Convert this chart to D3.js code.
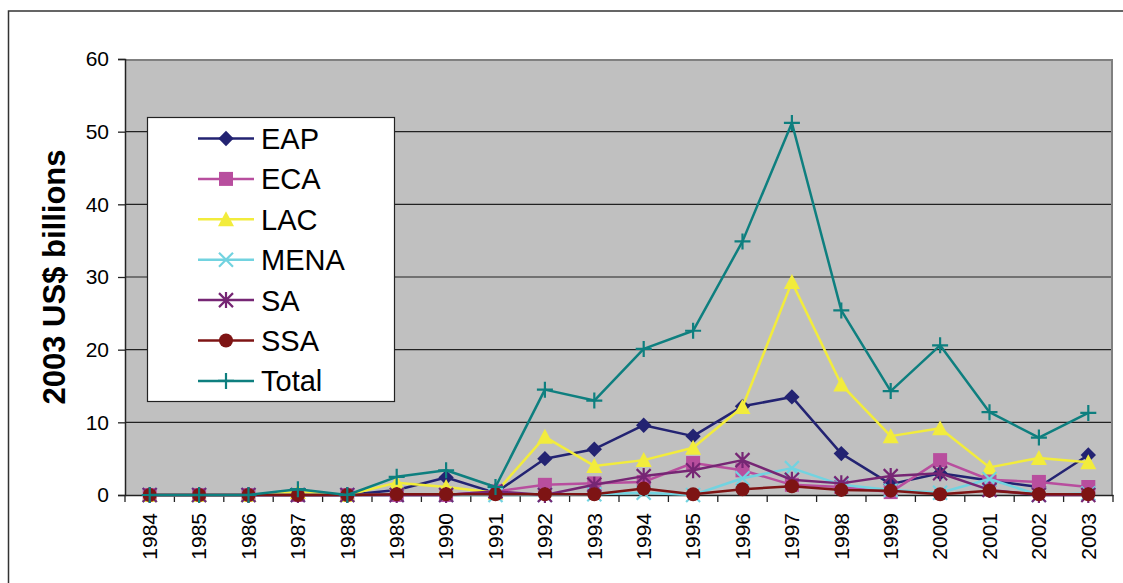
<!DOCTYPE html>
<html>
<head>
<meta charset="utf-8">
<script src="https://cdn.jsdelivr.net/npm/d3@7"></script>
<style>
  body { margin: 0; background: #fff; }
  svg { font-family: "Liberation Sans", Arial, sans-serif; }
</style>
</head>
<body>
<svg id="chart" width="1123" height="583"></svg>
<script>
// chart data
var years = [1984, 1985, 1986, 1987, 1988, 1989, 1990, 1991, 1992, 1993,
             1994, 1995, 1996, 1997, 1998, 1999, 2000, 2001, 2002, 2003];

var eap   = [0, 0, 0, 0, 0, 0.7, 2.4, 0.3, 5.0, 6.3, 9.6, 8.1, 12.2, 13.5, 5.7, 1.5, 3.0, 2.0, 1.1, 5.5];
var eca   = [0, 0, 0, 0, 0, 0, 0, 0.5, 1.4, 1.6, 1.8, 4.4, 3.4, 1.4, 1.1, 0.4, 4.8, 2.1, 1.8, 1.1];
var lac   = [0, 0, 0, 0.4, 0, 1.7, 1.1, 0.3, 8.0, 4.0, 4.8, 6.5, 12.1, 29.3, 15.2, 8.1, 9.2, 3.8, 5.1, 4.5];
var mena  = [0, 0, 0, 0, 0, 0, 0, 0, 0, 0.1, 0.3, 0, 2.3, 3.7, 1.4, 0.7, 0.3, 2.2, 0, 0.2];
var sa    = [0, 0, 0, 0, 0, 0, 0, 0.5, 0, 1.4, 2.6, 3.4, 4.8, 2.1, 1.6, 2.6, 3.0, 0.7, 0, 0];
var ssa   = [0, 0, 0, 0, 0, 0.1, 0.1, 0.1, 0.1, 0.1, 0.9, 0.1, 0.8, 1.2, 0.7, 0.6, 0.1, 0.6, 0.1, 0.1];
var total = [0, 0, 0, 0.8, 0, 2.5, 3.4, 1.1, 14.5, 13.0, 20.1, 22.6, 34.9, 51.2, 25.4, 14.3, 20.6, 11.4, 7.9, 11.3];

var seriesNames = ["EAP", "ECA", "LAC", "MENA", "SA", "SSA", "Total"];
var yTicks = [0, 10, 20, 30, 40, 50, 60];
var yTitle = "2003 US$ billions";

var seriesColors = ["#232372", "#B84E9E", "#F2EC3C", "#72D3E0", "#762674", "#7E1414", "#0E7F7F"];
var seriesMarkers = ["diamond", "square", "triangle", "cross", "asterisk", "circle", "plus"];

var seriesList = [eap, eca, lac, mena, sa, ssa, total].map(function (values, i) {
  return { name: seriesNames[i], values: values, color: seriesColors[i], marker: seriesMarkers[i] };
});

var FONT = "Liberation Sans, Arial, sans-serif";

var svg = d3.select("#chart");

// plot box
var plot = { left: 125, top: 59, right: 1113, bottom: 495 };

// outer frame
svg.append("rect")
  .attr("x", 8.5).attr("y", 11)
  .attr("width", 1130).attr("height", 600)
  .attr("fill", "none")
  .attr("stroke", "#333")
  .attr("stroke-width", 1.5);

var xScale = d3.scaleBand()
  .domain(years)
  .range([plot.left, plot.right]);

var yScale = d3.scaleLinear()
  .domain([0, 60])
  .range([plot.bottom, plot.top]);

svg.append("rect")
  .attr("x", plot.left).attr("y", plot.top)
  .attr("width", plot.right - plot.left)
  .attr("height", plot.bottom - plot.top)
  .attr("fill", "#C0C0C0");

// gridlines
svg.append("g").selectAll("line")
  .data(yTicks.filter(function (t) { return t > 0 && t < 60; }))
  .enter().append("line")
  .attr("x1", plot.left).attr("x2", plot.right)
  .attr("y1", function (d) { return yScale(d); })
  .attr("y2", function (d) { return yScale(d); })
  .attr("stroke", "#222")
  .attr("stroke-width", 1.2);

// top + right border of the plot area
svg.append("path")
  .attr("d", "M" + plot.left + "," + (plot.top + 1) + "H" + (plot.right - 1) + "V" + plot.bottom)
  .attr("fill", "none")
  .attr("stroke", "#808080")
  .attr("stroke-width", 2);

// y axis
var yAxis = d3.axisLeft(yScale).tickValues(yTicks).tickSize(7).tickPadding(9);
var yG = svg.append("g")
  .attr("transform", "translate(" + plot.left + ",0)")
  .call(yAxis);
yG.attr("font-size", 21).attr("font-family", FONT);
yG.select(".domain").attr("stroke", "#222").attr("stroke-width", 1.5);
yG.selectAll(".tick line").attr("stroke", "#222").attr("stroke-width", 1.3);
yG.selectAll("text").attr("fill", "#000").style("font-size", "21px");

// x axis, ticks between categories
var xAxis = d3.axisBottom(xScale).tickSize(0).tickPadding(0);
var xG = svg.append("g")
  .attr("transform", "translate(0," + plot.bottom + ")")
  .call(xAxis);
xG.attr("font-size", 21).attr("font-family", FONT);
xG.select(".domain").attr("stroke", "#222").attr("stroke-width", 1.5);
xG.selectAll("text")
  .style("font-size", "21px")
  .attr("fill", "#000")
  .attr("transform", "rotate(-90)")
  .attr("x", -18)
  .attr("y", 0)
  .attr("dy", "0.35em")
  .style("text-anchor", "end");

var boundaries = years.map(function (y) { return xScale(y); }).concat([plot.right]);
svg.append("g").selectAll("line")
  .data(boundaries)
  .enter().append("line")
  .attr("x1", function (d) { return d; }).attr("x2", function (d) { return d; })
  .attr("y1", plot.bottom).attr("y2", plot.bottom + 7)
  .attr("stroke", "#222")
  .attr("stroke-width", 1.3);

// y title
svg.append("text")
  .attr("transform", "translate(65," + ((plot.top + plot.bottom) / 2) + ") rotate(-90)")
  .attr("text-anchor", "middle")
  .style("font-size", "31px")
  .attr("font-weight", "bold")
  .attr("fill", "#000")
  .text(yTitle);

function drawMarker(g, type, color) {
  var s = 7;
  if (type === "diamond") {
    g.append("path").attr("d", d3.symbol().type(d3.symbolDiamond2).size(150)())
      .attr("fill", color);
  } else if (type === "square") {
    g.append("rect").attr("x", -s).attr("y", -s).attr("width", 2 * s).attr("height", 2 * s)
      .attr("fill", color);
  } else if (type === "triangle") {
    g.append("path").attr("d", "M0," + (-s - 1) + "L" + (s + 1) + "," + (s) + "L" + (-s - 1) + "," + (s) + "Z")
      .attr("fill", color);
  } else if (type === "circle") {
    g.append("circle").attr("r", s).attr("fill", color);
  } else {
    var p = d3.path();
    if (type === "cross" || type === "asterisk") {
      p.moveTo(-s, -s); p.lineTo(s, s);
      p.moveTo(-s, s); p.lineTo(s, -s);
    }
    if (type === "asterisk" || type === "plus") {
      p.moveTo(0, -s - 1); p.lineTo(0, s + 1);
    }
    if (type === "plus") {
      p.moveTo(-s - 1, 0); p.lineTo(s + 1, 0);
    }
    g.append("path").attr("d", p.toString())
      .attr("fill", "none").attr("stroke", color).attr("stroke-width", 2.2);
  }
}

var line = d3.line()
  .x(function (d, i) { return xScale(years[i]) + xScale.bandwidth() / 2; })
  .y(function (d) { return yScale(d); });

var seriesG = svg.append("g").selectAll("g")
  .data(seriesList)
  .enter().append("g");

seriesG.append("path")
  .attr("d", function (d) { return line(d.values); })
  .attr("fill", "none")
  .attr("stroke", function (d) { return d.color; })
  .attr("stroke-width", 2.5)
  .attr("stroke-linejoin", "round");

seriesG.each(function (s) {
  var g = d3.select(this);
  s.values.forEach(function (v, i) {
    var m = g.append("g")
      .attr("transform", "translate(" + (xScale(years[i]) + xScale.bandwidth() / 2) + "," + yScale(v) + ")");
    drawMarker(m, s.marker, s.color);
  });
});

// legend
var legend = svg.append("g");
legend.append("rect")
  .attr("x", 147.5).attr("y", 117.5)
  .attr("width", 247).attr("height", 284)
  .attr("fill", "#fff")
  .attr("stroke", "#222")
  .attr("stroke-width", 1.2);

var legendItems = legend.selectAll("g.item")
  .data(seriesList)
  .enter().append("g")
  .attr("class", "item")
  .attr("transform", function (d, i) { return "translate(0," + (138.5 + i * 40.4) + ")"; });

legendItems.append("line")
  .attr("x1", 198).attr("x2", 254)
  .attr("stroke", function (d) { return d.color; })
  .attr("stroke-width", 2.5);

legendItems.each(function (s) {
  var m = d3.select(this).append("g").attr("transform", "translate(226,0)");
  drawMarker(m, s.marker, s.color);
});

legendItems.append("text")
  .attr("x", 261)
  .attr("dy", "0.36em")
  .style("font-size", "29px")
  .attr("fill", "#000")
  .text(function (d) { return d.name; });
</script>
</body>
</html>
